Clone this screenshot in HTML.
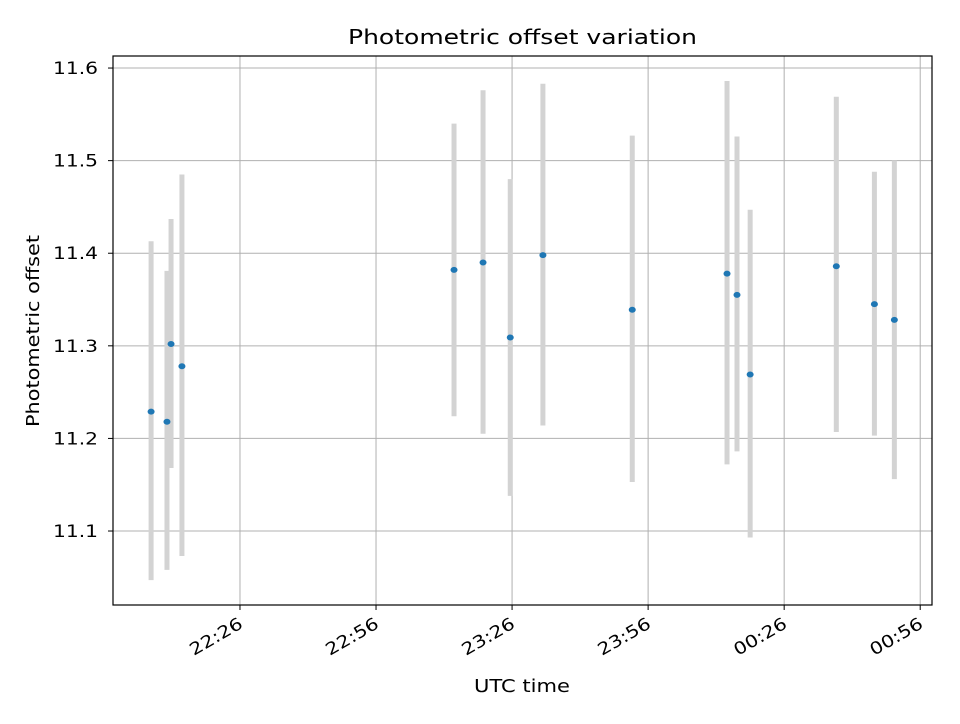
<!DOCTYPE html>
<html><head><meta charset="utf-8"><style>
body{margin:0;background:#fff;font-family:"DejaVu Sans","Liberation Sans",sans-serif;}
svg text{font-family:"DejaVu Sans","Liberation Sans",sans-serif;}
</style></head><body>
<svg id="chart" width="960" height="720" xmlns="http://www.w3.org/2000/svg">
<rect width="960" height="720" fill="#fff"/>
<g id="grid"></g><g id="errs"></g><g id="pts"></g><g id="ticks"></g>
<rect x="113" y="56" width="819" height="549" fill="none" stroke="#000" stroke-width="1.2"/>
<text x="348" y="44" font-size="20" textLength="349" lengthAdjust="spacingAndGlyphs">Photometric offset variation</text>
<text x="474" y="692" font-size="18" textLength="96" lengthAdjust="spacingAndGlyphs">UTC time</text>
<text transform="translate(39,427) rotate(-90)" font-size="18" textLength="192" lengthAdjust="spacingAndGlyphs">Photometric offset</text>
</svg>
<script>
// minutes since 22:26 UTC
const times=[-19.6,-16.1,-15.2,-12.8,47.2,53.6,59.6,66.8,86.5,107.4,109.6,112.5,131.5,139.9,144.3];
const values=[11.229,11.218,11.302,11.278,11.382,11.390,11.309,11.398,11.339,11.378,11.355,11.269,11.386,11.345,11.328];
const errHigh=[11.413,11.381,11.437,11.485,11.540,11.576,11.480,11.583,11.527,11.586,11.526,11.447,11.569,11.488,11.500];
const errLow=[11.047,11.058,11.168,11.073,11.224,11.205,11.138,11.214,11.153,11.172,11.186,11.093,11.207,11.203,11.156];
const xTickVals=[0,30,60,90,120,150];
const xTickLabels=["22:26","22:56","23:26","23:56","00:26","00:56"];
const yTickVals=[11.1,11.2,11.3,11.4,11.5,11.6];
const yTickLabels=["11.1","11.2","11.3","11.4","11.5","11.6"];
const L=113,R=932,T=56,B=605,xmin=-28.0,xmax=152.6,ymin=11.0201,ymax=11.613;
const X=v=>L+(v-xmin)/(xmax-xmin)*(R-L);
const Y=v=>B-(v-ymin)/(ymax-ymin)*(B-T);
const NS="http://www.w3.org/2000/svg";
function mk(tag,attrs,parent){const e=document.createElementNS(NS,tag);for(const k in attrs)e.setAttribute(k,attrs[k]);document.getElementById(parent).appendChild(e);return e;}
xTickVals.forEach((v,i)=>{const x=X(v);
 const g=mk('line',{x1:x,x2:x,y1:T,y2:B,stroke:'#b0b0b0','stroke-width':1},'grid');
 
 
 const t=mk('line',{x1:x,x2:x,y1:B,y2:B+5,stroke:'#000'},'ticks');
 
 
 const l=mk('text',{x:-58,y:0,'font-size':17,textLength:58,lengthAdjust:'spacingAndGlyphs',transform:`translate(${x+4},${B+22}) rotate(-30)`},'ticks');
 l.textContent=xTickLabels[i];
 
 
});
yTickVals.forEach((v,i)=>{const y=Y(v);
 const g=mk('line',{x1:L,x2:R,y1:y,y2:y,stroke:'#b0b0b0','stroke-width':1},'grid');
 
 
 const t=mk('line',{x1:L-5,x2:L,y1:y,y2:y,stroke:'#000'},'ticks');
 
 
 const l=mk('text',{x:L-60,y:y+6,'font-size':17,textLength:45,lengthAdjust:'spacingAndGlyphs'},'ticks');
 l.textContent=yTickLabels[i];
 
 
});
times.forEach((t,i)=>{const x=X(t);
 const e=mk('line',{x1:x,x2:x,y1:Y(errHigh[i]),y2:Y(errLow[i]),stroke:'#d3d3d3','stroke-width':5},'errs');
 
 
 const p=mk('ellipse',{cx:x,cy:Y(values[i]),rx:3.5,ry:3,fill:'#1f77b4'},'pts');
 
 
});
</script>
</body></html>
